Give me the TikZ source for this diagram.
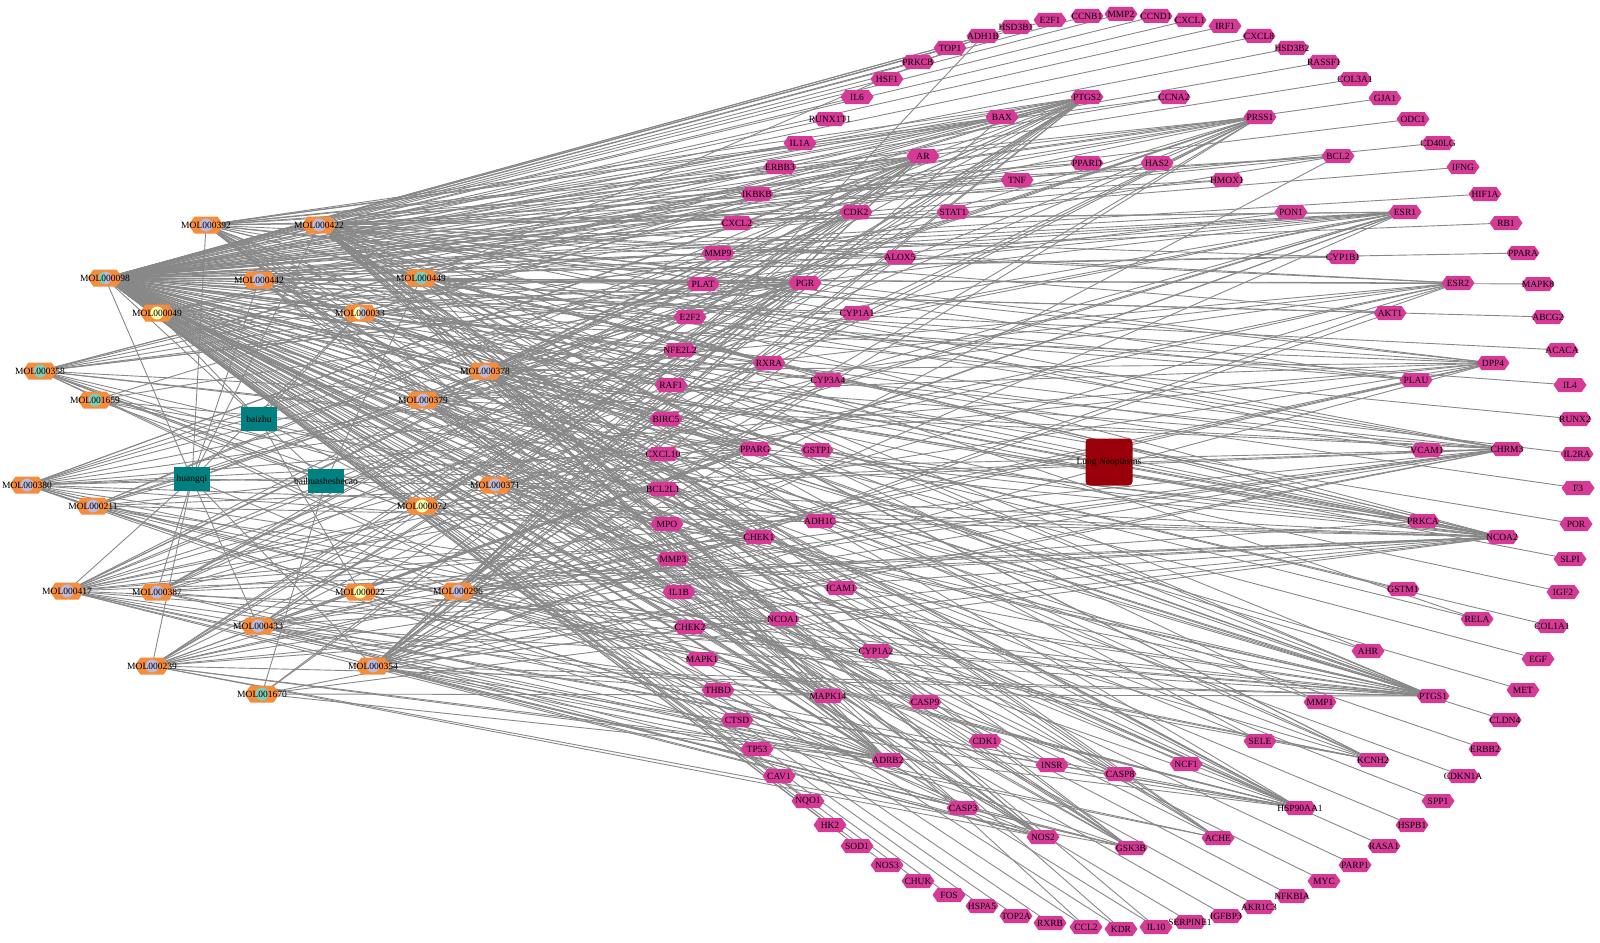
\documentclass[tikz,border=0pt]{standalone}
\usepackage{fontspec}
\setmainfont{Liberation Serif}
\usetikzlibrary{shapes.symbols}
\definecolor{hexc}{RGB}{214,58,150}
\definecolor{molc}{RGB}{244,141,62}
\definecolor{lav}{RGB}{190,186,218}
\definecolor{tealc}{RGB}{128,205,185}
\definecolor{yel}{RGB}{255,255,179}
\definecolor{herbc}{RGB}{0,128,128}
\definecolor{disc}{RGB}{153,0,10}
\definecolor{edgec}{RGB}{136,136,136}
\pgfdeclarelayer{bg}
\pgfsetlayers{bg,main}
\begin{document}
\begin{tikzpicture}[x=1pt,y=-1pt,
  lbl/.style={font=\fontsize{9.5}{10}\selectfont, text=black, inner sep=0pt},
  tgt/.style={signal, signal to=east and west, signal pointer angle=110, fill=hexc, draw=none, minimum width=33pt, minimum height=14pt, inner sep=0pt, outer sep=0pt},
  mol/.style={signal, signal to=east and west, signal pointer angle=110, fill=molc, draw=none, minimum width=35pt, minimum height=17pt, inner sep=0pt, outer sep=0pt},
  molin/.style={path picture={\fill[#1] (path picture bounding box.center) circle[radius=6.5pt];}},
  molhalf/.style 2 args={path picture={
     \fill[#1] (path picture bounding box.center) -- ++(90:6.5pt) arc[start angle=90,end angle=270,radius=6.5pt] -- cycle;
     \fill[#2] (path picture bounding box.center) -- ++(90:6.5pt) arc[start angle=90,end angle=-90,radius=6.5pt] -- cycle;}},
  herb/.style={rectangle, fill=herbc, draw=none, minimum width=36pt, minimum height=24pt, inner sep=0pt},
  disease/.style={rectangle, rounded corners=4pt, fill=disc, draw=none, minimum width=47pt, minimum height=47pt, inner sep=0pt},
  cedge/.style={draw=edgec, line width=0.9pt}]
\begin{pgfonlayer}{bg}
\fill[white] (0,0) rectangle (1600,942);
\end{pgfonlayer}
\useasboundingbox (0,0) rectangle (1600,942);

% ---------- target nodes ----------
\foreach \n/\x/\y in {TOP1/950/48, ADH1B/983/36, HSD3B1/1016/27, E2F1/1050/20, CCNB1/1087/16, MMP2/1121/14, CCND1/1156/16, CXCL1/1190/20, IRF1/1225/26, CXCL8/1259/36, HSD3B2/1292/48, RASSF1/1324/62, COL3A1/1355/79, GJA1/1385/98, ODC1/1413/119, CD40LG/1438/143, IFNG/1463/167, HIF1A/1485/194, RB1/1506/223, PPARA/1523/253, MAPK8/1538/284, ABCG2/1548/317, ACACA/1562/350, IL4/1570/385, RUNX2/1575/419, IL2RA/1577/454, F3/1578/488, POR/1576/524, SLPI/1570/559, IGF2/1563/592, COL1A1/1552/626, EGF/1538/659, MET/1523/690, CLDN4/1505/720, ERBB2/1485/749, CDKN1A/1463/776, SPP1/1438/801, HSPB1/1412/825, RASA1/1384/846, PARP1/1355/865, MYC/1324/881, NFKBIA/1292/896, AKR1C3/1259/907, IGFBP3/1226/916, SERPINE1/1190/922, IL10/1156/927, KDR/1121/929, CCL2/1086/927, RXRB/1050/923, TOP2A/1016/916, HSPA5/982/906, FOS/949/895, CHUK/918/881, NOS3/887/865, SOD1/857/846, HK2/830/825, NQO1/808/801, CAV1/779/776, TP53/757/749, CTSD/737/720, THBD/718/690, MAPK1/702/659, CHEK2/690/627, IL1B/679/592, MMP3/673/559, MPO/667/524, BCL2L1/663/489, CXCL10/663/454, BIRC5/666/419, RAF1/671/385, NFE2L2/680/350, E2F2/690/317, PLAT/703/284, MMP9/718/253, CXCL2/737/223, IKBKB/757/194, ERBB3/780/167, IL1A/800/143, RUNX1T1/830/119, IL6/857/97, HSF1/887/79, PRKCB/918/62,
BAX/1002/117, PTGS2/1087/97, CCNA2/1174/97, PRSS1/1260/117, BCL2/1338/156, HMOX1/1227/180, PON1/1291/212, ESR1/1405/212, CYP1B1/1343/257, ESR2/1458/283, AKT1/1390/313, DPP4/1493/363, PLAU/1416/380, VCAM1/1427/450, CHRM3/1507/449, PRKCA/1423/521, NCOA2/1502/537, GSTM1/1403/589, RELA/1477/619, AHR/1368/651, PTGS1/1433/696, MMP1/1320/702, SELE/1260/741, KCNH2/1373/760, HSP90AA1/1300/808, ACHE/1218/838, NCF1/1186/764, CASP8/1120/774, GSK3B/1131/848, INSR/1052/765, NOS2/1043/837, CDK1/985/741, CASP3/963/808, CASP9/925/702, ADRB2/888/760, CYP1A2/876/651, MAPK14/828/696, NCOA1/783/619, ICAM1/841/588, CHEK1/759/537, ADH1C/820/521, PPARG/755/449, GSTP1/817/450, CYP3A4/828/380, RXRA/769/363, CYP1A1/857/313, PGR/805/283, ALOX5/900/257, CDK2/856/212, STAT1/953/212, TNF/1017/180, AR/923/156, PPARD/1087/163, HAS2/1157/163}
  {\node[tgt,label={[lbl]center:\n}] (\n) at (\x,\y) {};}

% ---------- compound nodes ----------
\foreach \n/\x/\y/\c in {MOL000392/206/225/lav, MOL000422/319/225/lav, MOL000442/259/280/lav, MOL000449/421/278/tealc, MOL000049/157/313/yel, MOL000358/40/371/tealc, MOL001659/95/400/tealc, MOL000378/485/371/lav, MOL000379/423/400/lav, MOL000380/27/485/lav, MOL000211/93/506/lav, MOL000371/495/485/lav, MOL000072/422/506/yel, MOL000417/67/591/lav, MOL000387/157/592/lav, MOL000022/360/592/yel, MOL000296/458/591/lav, MOL000433/258/626/lav, MOL000239/152/666/lav, MOL000354/373/666/lav, MOL001670/262/694/tealc}
  {\node[mol,molin=\c,label={[lbl]center:\n}] (\n) at (\x,\y) {};}
\node[mol,molhalf={tealc}{lav},label={[lbl]center:MOL000098}] (MOL000098) at (105,278) {};
\node[mol,molhalf={yel}{lav},label={[lbl]center:MOL000033}] (MOL000033) at (360,313) {};

% ---------- herbs and disease ----------
\node[herb,label={[lbl]center:baizhu}] (baizhu) at (259,419) {};
\node[herb,label={[lbl]center:huangqi}] (huangqi) at (192,479) {};
\node[herb,label={[lbl]center:baihuasheshecao}] (bhssc) at (326,481) {};
\node[disease,label={[lbl]center:Lung Neoplasms}] (lung) at (1109,462) {};

% ---------- edges ----------
\begin{pgfonlayer}{bg}
\foreach \m/\ts in {
 huangqi/{MOL000392,MOL000422,MOL000098,MOL000442,MOL000033,MOL000378,MOL000379,MOL000371,MOL000380,MOL000211,MOL000417,MOL000387,MOL000433,MOL000239,MOL000354,MOL000296},
 baizhu/{MOL000049,MOL000033,MOL000022,MOL000072},
 bhssc/{MOL000098,MOL000449,MOL000358,MOL001659,MOL001670},
 MOL000098/{TOP1,ADH1B,HSD3B1,E2F1,CCNB1,MMP2,CCND1,CXCL1,IRF1,CXCL8,HSD3B2,RASSF1,COL3A1,GJA1,ODC1,CD40LG,IFNG,HIF1A,RB1,PPARA,MAPK8,ABCG2,ACACA,IL4,RUNX2,IL2RA,F3,POR,SLPI,IGF2,COL1A1,EGF,MET,CLDN4,ERBB2,CDKN1A,SPP1,HSPB1,RASA1,PARP1,MYC,NFKBIA,AKR1C3,IGFBP3,SERPINE1,IL10,KDR,CCL2,RXRB,TOP2A,HSPA5,FOS,CHUK,NOS3,SOD1,HK2,NQO1,CAV1,TP53,CTSD,THBD,MAPK1,CHEK2,IL1B,MMP3,MPO,BCL2L1,CXCL10,BIRC5,RAF1,NFE2L2,E2F2,PLAT,MMP9,CXCL2,IKBKB,ERBB3,IL1A,RUNX1T1,IL6,HSF1,PRKCB,BAX,PTGS2,CCNA2,PRSS1,BCL2,HMOX1,PON1,ESR1,CYP1B1,ESR2,AKT1,PLAU,VCAM1,PRKCA,NCOA2,GSTM1,RELA,AHR,PTGS1,MMP1,SELE,HSP90AA1,ACHE,NCF1,CASP8,GSK3B,INSR,NOS2,CDK1,CASP3,CASP9,ADRB2,CYP1A2,MAPK14,NCOA1,ICAM1,CHEK1,ADH1C,PPARG,GSTP1,CYP3A4,RXRA,CYP1A1,PGR,ALOX5,CDK2,STAT1,TNF,AR,PPARD,HAS2},
 MOL000422/{PTGS1,PTGS2,PRSS1,NCOA2,HSP90AA1,ESR1,AR,PGR,PPARG,CHEK1,ADRB2,NOS2,DPP4,CHRM3,KCNH2,CDK2,GSK3B,ESR2,NCOA1,RXRA,CYP3A4,ACHE,CASP3,BAX,BCL2,AKT1,TNF,CASP9,CASP8,CYP1A1,CYP1A2,CYP1B1,ALOX5,HMOX1,ICAM1,VCAM1,SELE,MMP1,PLAU,INSR,AHR,RELA,KDR,CCL2,IL10},
 MOL000392/{PTGS1,PTGS2,PRSS1,NCOA2,HSP90AA1,ESR1,AR,PGR,PPARG,CHEK1,ADRB2,NOS2,DPP4,CHRM3,KCNH2,CDK2,GSK3B,MAPK14,ESR2,NCOA1,RXRA,ACHE,CASP3,BAX,BCL2,PPARD,CCNA2},
 MOL000378/{PTGS1,PTGS2,PRSS1,NCOA2,HSP90AA1,ESR1,AR,PGR,PPARG,CHEK1,ADRB2,NOS2,DPP4,CHRM3,KCNH2,CDK2,GSK3B,MAPK14,ESR2,NCOA1,RXRA,ACHE,PRKCA},
 MOL000354/{PTGS1,PTGS2,PRSS1,NCOA2,HSP90AA1,ESR1,AR,PGR,PPARG,CHEK1,ADRB2,NOS2,DPP4,CHRM3,CDK2,GSK3B,MAPK14,ESR2,NCOA1,RXRA,ACHE,CASP3,BAX,BCL2,AKT1,CYP1A1,CYP3A4,ALOX5},
 MOL000417/{PTGS1,PTGS2,PRSS1,NCOA2,HSP90AA1,ESR1,AR,PGR,PPARG,CHEK1,ADRB2,NOS2,DPP4,CHRM3,CDK2,GSK3B,MAPK14,ESR2,NCOA1,RXRA,ACHE},
 MOL000239/{PTGS1,PTGS2,PRSS1,NCOA2,HSP90AA1,ESR1,AR,PGR,PPARG,CHEK1,ADRB2,NOS2,DPP4,CHRM3,CDK2,GSK3B,ESR2,NCOA1},
 MOL000380/{PTGS1,PTGS2,PRSS1,NCOA2,HSP90AA1,ESR1,AR,PGR,PPARG,CHEK1,ADRB2,NOS2,DPP4,CHRM3,KCNH2,CDK2,GSK3B,ESR2,MAPK14},
 MOL000371/{PTGS1,PTGS2,PRSS1,NCOA2,HSP90AA1,ESR1,AR,PPARG,CHEK1,ADRB2,NOS2,CHRM3,CDK2,GSK3B,ESR2},
 MOL000296/{PTGS1,PTGS2,PRSS1,NCOA2,HSP90AA1,PGR,ADRB2,CHRM3,KCNH2,NOS2,CASP9,PRKCA,AR,DPP4,ADH1B},
 MOL000358/{PGR,NCOA2,PTGS1,PTGS2,CHRM3,ADRB2,KCNH2,BAX,BCL2,CASP9,CASP3,CASP8,PRKCA,PON1,HSP90AA1,PRSS1,AR,ESR1},
 MOL000449/{PGR,NCOA2,PTGS1,PTGS2,CHRM3,ADRB2,KCNH2,ADH1C,ADH1B,PLAU,PRKCA,ESR1,ACHE},
 MOL001659/{PGR,NCOA2,PTGS1,PTGS2,ADH1C},
 MOL001670/{PTGS1,PTGS2,NCOA2,PGR,ADRB2,CHRM3},
 MOL000049/{PTGS1,PTGS2,NCOA2,PGR,ESR1,AR,PRSS1,ADRB2,CHRM3,KCNH2,DPP4,HSP90AA1,NOS2},
 MOL000072/{PTGS1,PTGS2,NCOA2,PGR,AR},
 MOL000022/{PTGS1,PTGS2,NCOA2,ADRB2,CHRM3},
 MOL000033/{PTGS1,PTGS2,NCOA2,PGR,AR,HSP90AA1,ESR1,ADRB2},
 MOL000211/{PTGS1,PTGS2,NCOA2,PGR,AR,PRSS1,HSP90AA1,ADRB2,CHRM3,KCNH2,DPP4},
 MOL000387/{PTGS1,PTGS2,PRSS1,NCOA2,ESR1,AR,PGR,PPARG,ADRB2,HSP90AA1,CHEK1,CDK2},
 MOL000433/{PTGS1,PTGS2,PRSS1,NCOA2,HSP90AA1,ESR1,AR,PGR,PPARG,CHEK1,ADRB2,NOS2,CHRM3,DPP4,MAPK14,GSK3B},
 MOL000442/{PTGS1,PTGS2,PRSS1,NCOA2,HSP90AA1,ESR1,AR,PGR,PPARG,CHEK1,ADRB2,NOS2,DPP4,CDK2,GSK3B},
 MOL000379/{PTGS1,PTGS2,PRSS1,NCOA2,HSP90AA1,ESR1,AR,PGR,PPARG,CHEK1,ADRB2,NOS2,DPP4,CHRM3,CDK2,GSK3B,ESR2}}
 {\foreach \t in \ts {\draw[cedge] (\m.center) -- (\t.center);}}
\end{pgfonlayer}
\end{tikzpicture}
\end{document}
